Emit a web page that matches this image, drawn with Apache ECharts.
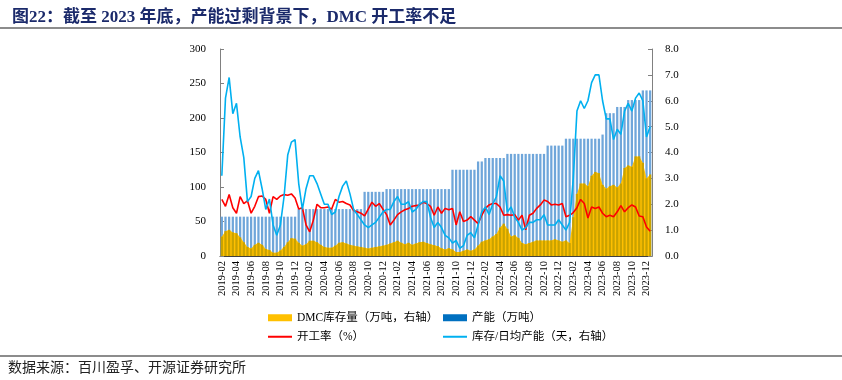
<!DOCTYPE html>
<html><head><meta charset="utf-8">
<script src="https://cdn.jsdelivr.net/npm/echarts@6/dist/echarts.min.js"></script>
<style>html,body{margin:0;padding:0;background:#fff}#c{width:842px;height:380px}</style>
</head><body><div id="c"></div>
<script>
// semi-monthly observation points, 2019-02 .. 2023-12
const startYear = 2019, startMonth = 2, endYear = 2023, endMonth = 12;
const categories = [];
for (let y = startYear; y <= endYear; y++) {
  for (let m = (y === startYear ? startMonth : 1); m <= (y === endYear ? endMonth : 12); m++) {
    const mm = (m < 10 ? '0' : '') + m;
    categories.push(y + '-' + mm + '-01', y + '-' + mm + '-16');
  }
}
const tickLabels = ['2019-02','2019-04','2019-06','2019-08','2019-10','2019-12','2020-02','2020-04','2020-06','2020-08','2020-10','2020-12','2021-02','2021-04','2021-06','2021-08','2021-10','2021-12','2022-02','2022-04','2022-06','2022-08','2022-10','2022-12','2023-02','2023-04','2023-06','2023-08','2023-10','2023-12'];

// 产能（万吨） left axis
const capacity = [57,57,57,57,57,57,57,57,57,57,57,57,57,57,57,57,57,57,57,57,57,
  68,68,68,68,68,68,68,68,68,68,68,68,68,68,68,68,68,68,
  93,93,93,93,93,93,
  97,97,97,97,97,97,97,97,97,97,97,97,97,97,97,97,97,97,
  125,125,125,125,125,125,125,
  137,137,
  142,142,142,142,142,142,
  148,148,148,148,148,148,148,148,148,148,148,
  160,160,160,160,160,
  170,170,170,170,170,170,170,170,170,170,
  176,
  207,207,207,
  216,216,216,
  226,226,226,226,
  240,240,240];

// 开工率（%） left axis
const operatingRate = [82,72,89,70,62,86,76,80,62,72,86,87,82,62,86,82,87,89,88,90,
  84,68,70,45,35,52,75,70,70,71,68,82,78,79,76,74,66,64,62,58,
  68,78,72,76,68,60,45,52,60,64,67,69,72,73,74,78,76,72,
  59,71,62,69,67,69,45,64,50,52,57,52,47,59,69,74,76,76,71,59,
  60,59,60,52,59,38,59,62,69,74,81,79,74,75,74,76,57,59,63,70,
  82,76,55,71,69,71,62,57,59,57,64,73,64,70,74,71,58,57,42,36];

// 库存/日均产能（天，右轴）
const daysRatio = [3.1,6.1,6.9,5.5,5.9,4.6,3.8,2.1,2.3,3.0,3.3,2.6,1.8,2.2,1.2,0.8,1.2,2.3,3.9,4.4,
  4.5,2.8,1.8,2.6,3.1,3.1,2.8,2.4,2.0,2.0,1.6,1.7,2.3,2.7,2.9,2.4,1.8,1.6,1.4,1.2,
  1.1,1.2,1.3,1.5,1.7,1.8,1.8,2.1,2.3,2.0,2.0,2.1,1.7,1.8,2.0,2.1,2.1,1.5,
  1.1,1.3,1.1,0.8,0.7,0.5,0.6,0.3,0.4,0.8,0.9,0.7,1.2,1.7,1.9,1.6,2.0,2.3,3.1,2.9,
  1.7,1.9,1.5,1.3,1.0,1.1,1.3,1.3,1.4,1.4,1.6,1.2,1.2,1.2,1.4,1.2,1.0,1.3,3.0,5.6,
  6.0,5.7,6.0,6.7,7.0,7.0,6.0,5.3,5.3,4.5,4.9,4.7,5.6,5.9,5.6,6.1,6.3,6.0,4.6,5.0];

// DMC库存量（万吨，右轴）
const inventory = [0.75,0.96,1.01,0.91,0.88,0.72,0.53,0.35,0.29,0.43,0.51,0.43,0.27,0.23,0.13,0.13,0.21,0.35,0.53,0.69,
  0.67,0.51,0.40,0.45,0.59,0.59,0.53,0.43,0.35,0.32,0.32,0.40,0.51,0.53,0.48,0.43,0.40,0.37,0.35,0.32,
  0.29,0.32,0.35,0.37,0.40,0.43,0.48,0.53,0.59,0.51,0.45,0.51,0.43,0.48,0.53,0.55,0.50,0.45,
  0.42,0.38,0.30,0.25,0.30,0.25,0.15,0.15,0.20,0.25,0.20,0.25,0.40,0.55,0.60,0.65,0.75,0.85,1.10,1.25,
  1.05,0.75,0.80,0.70,0.50,0.45,0.50,0.55,0.60,0.60,0.60,0.60,0.60,0.65,0.60,0.55,0.60,0.50,1.50,2.40,
  2.80,2.80,2.70,3.10,3.25,3.20,2.75,2.60,2.70,2.75,2.65,2.80,3.40,3.50,3.45,3.85,3.85,3.60,3.00,3.15];

const NAME_INV = 'DMC库存量（万吨，右轴）';
const NAME_CAP = '产能（万吨）';
const NAME_RATE = '开工率（%）';
const NAME_DAYS = '库存/日均产能（天，右轴）';

const serif = '"Liberation Serif", "Noto Sans CJK SC", serif';
const chart = echarts.init(document.getElementById('c'), null, {renderer: 'canvas'});
const showLabel = (idx, val) => val.endsWith('-01') && tickLabels.indexOf(val.slice(0, 7)) >= 0;
const legendBase = {orient: 'horizontal', itemWidth: 24, itemGap: 0,
  textStyle: {fontSize: 11.5, color: '#000', fontFamily: serif}, selectedMode: false};

chart.setOption({
  animation: false,
  title: {text: '图22：截至 2023 年底，产能过剩背景下，DMC 开工率不足', left: 7, top: 4,
    textStyle: {fontSize: 17, fontWeight: 'bold', color: '#1B2A6B', fontFamily: serif}},
  graphic: [
    {type: 'rect', shape: {x: 0, y: 27, width: 842, height: 2}, style: {fill: '#8c8c8c'}},
    {type: 'rect', shape: {x: 0, y: 355, width: 842, height: 2}, style: {fill: '#8c8c8c'}},
    {type: 'text', left: 8, top: 360, style: {text: '数据来源：百川盈孚、开源证券研究所', fontSize: 14,
      fill: '#222', fontFamily: '"Noto Sans CJK SC", sans-serif'}}
  ],
  legend: [
    Object.assign({}, legendBase, {left: 263, top: 307, itemHeight: 7, icon: 'rect', data: [{name: NAME_INV}]}),
    Object.assign({}, legendBase, {left: 438, top: 307, itemHeight: 7, icon: 'rect', data: [{name: NAME_CAP, itemStyle: {color: '#0070C0'}}]}),
    Object.assign({}, legendBase, {left: 263, top: 326, itemHeight: 2, icon: 'rect', data: [{name: NAME_RATE}]}),
    Object.assign({}, legendBase, {left: 438, top: 326, itemHeight: 2, icon: 'rect', data: [{name: NAME_DAYS}]})
  ],
  grid: {left: 220, right: 190, top: 49, bottom: 124, containLabel: false},
  xAxis: {type: 'category', data: categories, boundaryGap: true,
    axisLine: {lineStyle: {color: '#404040', width: 1}},
    axisTick: {show: true, inside: true, length: 3, interval: showLabel, alignWithLabel: true, lineStyle: {color: '#404040'}},
    axisLabel: {interval: showLabel, rotate: 90, fontSize: 10.5, color: '#000', fontFamily: serif,
      margin: 5, formatter: v => v.slice(0, 7)}},
  yAxis: [
    {type: 'value', min: 0, max: 300, interval: 50, splitLine: {show: false},
      axisLine: {show: true, lineStyle: {color: '#808080'}},
      axisTick: {show: true, inside: true, length: 4, lineStyle: {color: '#808080'}},
      axisLabel: {fontSize: 11, color: '#000', fontFamily: serif, margin: 14}},
    {type: 'value', min: 0, max: 8, interval: 1, splitLine: {show: false},
      axisLine: {show: true, lineStyle: {color: '#808080'}},
      axisTick: {show: true, inside: true, length: 4, lineStyle: {color: '#808080'}},
      axisLabel: {fontSize: 11, color: '#000', fontFamily: serif, margin: 13, formatter: v => v.toFixed(1)}}
  ],
  series: [
    {name: NAME_CAP, type: 'bar', yAxisIndex: 0, data: capacity, barWidth: '62%', barGap: '-100%',
      itemStyle: {color: '#6FA6DA'}, z: 1},
    {name: NAME_INV, type: 'line', yAxisIndex: 1, data: inventory, symbol: 'none',
      lineStyle: {width: 0}, areaStyle: {color: '#FFC000', opacity: 1}, itemStyle: {color: '#FFC000'}, z: 2},
    {name: 'inv-bars', type: 'bar', yAxisIndex: 1, data: inventory, barWidth: '62%', barGap: '-100%',
      itemStyle: {color: '#C9A200'}, z: 3},
    {name: NAME_RATE, type: 'line', yAxisIndex: 0, data: operatingRate, symbol: 'none',
      lineStyle: {width: 1.6, color: '#FF0000'}, itemStyle: {color: '#FF0000'}, z: 4},
    {name: NAME_DAYS, type: 'line', yAxisIndex: 1, data: daysRatio, symbol: 'none',
      lineStyle: {width: 1.6, color: '#00B0F0'}, itemStyle: {color: '#00B0F0'}, z: 5}
  ]
});
</script></body></html>
